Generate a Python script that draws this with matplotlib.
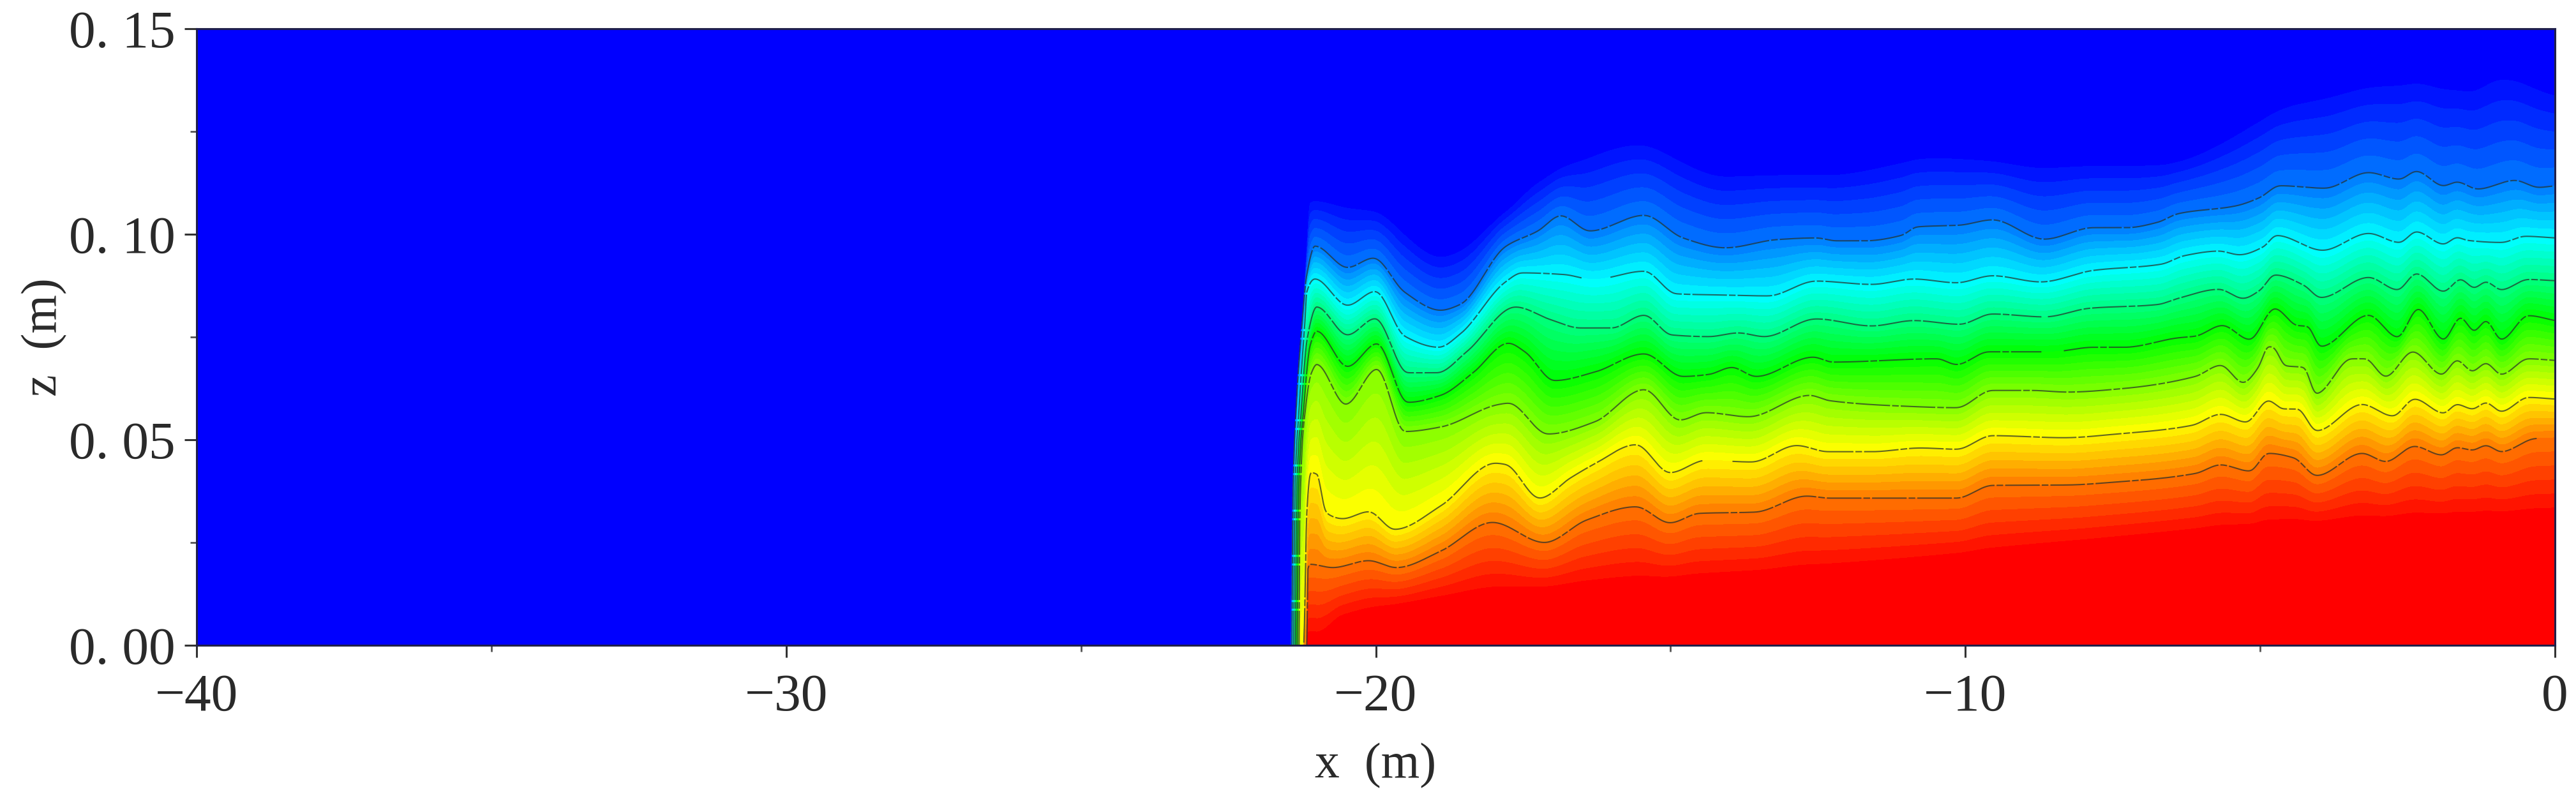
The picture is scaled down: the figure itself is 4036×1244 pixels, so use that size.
import numpy as np
import matplotlib
matplotlib.use("Agg")
import matplotlib.pyplot as plt
from matplotlib.colors import LinearSegmentedColormap, Normalize

# ---- contour lines (x in m, z in m), value = level ----
levels_values = [0.125, 0.25, 0.375, 0.5, 0.625, 0.75, 0.875]

x1 = [-21.42,-21.41,-21.35,-21.27,-21.17,-21.03,-20.48,-20.04,-19.51,-18.90,-18.57,-17.80,-17.25,-16.86,-16.37,-15.45,-14.79,-14.07,-13.19,-12.53,-12.19,-11.70,-11.09,-10.81,-10.10,-9.54,-8.66,-7.83,-7.26,-6.74,-6.39,-5.41,-5.01,-4.66,-3.91,-3.16,-2.64,-2.35,-1.89,-1.66,-1.31,-0.68,-0.27,0]
z1 = [0,.030,.0578,.0748,.0901,.0971,.0919,.0942,.0859,.0815,.0829,.0970,.1008,.1045,.1008,.1046,.0991,.0967,.0987,.0991,.0984,.0984,.0997,.1018,.1022,.1035,.0988,.1016,.1016,.1029,.1050,.1069,.1089,.1118,.1112,.1150,.1134,.1153,.1118,.1127,.1110,.1131,.1114,.1118]

x2 = [-21.39,-21.38,-21.30,-21.20,-21.17,-21.03,-20.48,-20.01,-19.51,-18.93,-18.57,-17.80,-17.52,-16.81,-16.31,-15.45,-14.90,-14.07,-13.35,-12.53,-11.59,-10.87,-10.15,-9.54,-8.72,-7.83,-6.68,-6.28,-5.70,-5.35,-4.95,-4.72,-3.94,-3.16,-2.64,-2.35,-1.89,-1.66,-1.48,-0.91,-0.50,0]
z2 = [0,.030,.0578,.0791,.0859,.0891,.0827,.0861,.0752,.0725,.0757,.0884,.0906,.0902,.0890,.0910,.0855,.0852,.0850,.0886,.0878,.0891,.0882,.0899,.0884,.0912,.0927,.0948,.0959,.0950,.0969,.0997,.0961,.1002,.0980,.1006,.0976,.0992,.0985,.0980,.0995,.0991]

x3 = [-21.36,-21.35,-21.26,-21.16,-21.00,-20.48,-20.01,-19.46,-18.96,-18.46,-17.63,-17.03,-16.53,-16.00,-15.45,-14.98,-14.35,-13.85,-13.41,-12.53,-11.59,-10.87,-10.10,-9.54,-8.66,-7.89,-6.74,-6.39,-5.70,-5.29,-5.01,-4.75,-4.26,-3.97,-3.16,-2.67,-2.35,-1.89,-1.60,-1.37,-1.17,-0.91,-0.45,0]
z3 = [0,.030,.0578,.0748,.0823,.0755,.0795,.0663,.0663,.0714,.0823,.0792,.0772,.0772,.0803,.0755,.0751,.0760,.0751,.0794,.0777,.0790,.0781,.0806,.0799,.0820,.0829,.0844,.0866,.0844,.0863,.0901,.0876,.0846,.0895,.0865,.0904,.0861,.0890,.0870,.0884,.0865,.0890,.0887]

x4 = [-21.33,-21.32,-21.22,-21.11,-21.00,-20.48,-19.98,-19.46,-18.90,-18.35,-17.75,-17.47,-16.97,-16.28,-15.45,-14.79,-14.35,-13.96,-13.55,-12.58,-12.25,-10.48,-10.15,-9.60,-8.55,-7.83,-7.31,-6.39,-6.10,-5.64,-5.18,-4.75,-4.37,-4.20,-3.97,-3.16,-2.67,-2.32,-1.89,-1.60,-1.37,-1.17,-0.91,-0.45,0]
z4 = [0,.030,.0578,.0731,.0764,.0678,.0734,.0591,.0608,.0663,.0735,.0714,.0644,.0665,.0709,.0654,.0659,.0676,.0654,.0701,.0689,.0697,.0683,.0714,.0714,.0725,.0725,.0748,.0752,.0778,.0744,.0819,.0778,.0776,.0727,.0803,.0750,.0818,.0744,.0797,.0765,.0789,.0744,.0802,.0790]

x5 = [-21.30,-21.29,-21.19,-21.09,-21.00,-20.51,-19.98,-19.51,-18.90,-17.91,-17.75,-17.08,-16.28,-15.45,-14.84,-14.40,-13.68,-12.64,-12.30,-11.09,-10.15,-9.54,-8.88,-8.27,-7.37,-6.10,-5.67,-5.29,-5.03,-4.86,-4.78,-4.57,-4.26,-4.05,-3.45,-3.22,-2.87,-2.41,-1.92,-1.66,-1.40,-1.17,-0.91,-0.45,0]
z5 = [0,.030,.0578,.0663,.0683,.0586,.0672,.0520,.0531,.0586,.0589,.0514,.0544,.0622,.0548,.0566,.0556,.0608,.0595,.0582,.0578,.0620,.0620,.0616,.0624,.0654,.0681,.0639,.0676,.0727,.0725,.0680,.0676,.0612,.0697,.0697,.0654,.0714,.0659,.0693,.0667,.0686,.0659,.0697,.0693]

x6 = [-21.225,-21.17,-21.11,-21.09,-21.00,-20.84,-20.56,-20.12,-19.68,-18.90,-17.97,-17.80,-17.22,-16.70,-16.28,-15.59,-15.01,-14.40,-13.63,-12.86,-12.33,-11.59,-10.76,-10.15,-9.54,-8.33,-7.43,-6.16,-5.67,-5.24,-4.86,-4.60,-4.37,-4.04,-3.27,-2.75,-2.38,-1.89,-1.66,-1.40,-1.17,-0.91,-0.45,0]
z6 = [0,.0322,.0416,.0420,.0416,.0322,.0308,.0325,.0282,.0339,.0443,.0440,.0358,.0407,.0442,.0488,.0420,.0450,.0446,.0486,.0471,.0471,.0480,.0477,.0510,.0505,.0514,.0535,.0562,.0543,.0595,.0575,.0575,.0522,.0586,.0558,.0599,.0565,.0586,.0575,.0590,.0569,.0603,.0599]

x7 = [-21.17,-21.15,-21.11,-20.73,-20.12,-19.65,-18.90,-18.02,-17.14,-16.42,-15.59,-15.01,-14.51,-13.57,-12.69,-12.30,-10.15,-9.54,-8.27,-7.55,-6.10,-5.67,-5.18,-4.86,-4.43,-4.04,-3.27,-2.87,-2.38,-1.92,-1.66,-1.40,-1.17,-0.91,-0.33,0]
z7 = [0,.0186,.0197,.0189,.0206,.0189,.0229,.0299,.0250,.0305,.0337,.0298,.0321,.0324,.0363,.0358,.0358,.0389,.0390,.0396,.0418,.0439,.0424,.0467,.0456,.0413,.0467,.0447,.0484,.0463,.0481,.0475,.0486,.0471,.0503,.0505]

# upper edge of the plume (value 0) and lower edge of the fully red zone (value 1)
x_top = [-21.44,-21.43,-21.33,-21.20,-21.11,-20.01,-18.90,-17.80,-17.22,-15.59,-14.07,-12.40,-10.50,-8.70,-6.68,-4.31,-2.35,-1.48,-0.91,0]
z_top = [0,.030,.060,.090,.1102,.1076,.097,.107,.115,.125,.1174,.1174,.1217,.1195,.1195,.1357,.1408,.1392,.1425,.138]
x_red = [-21.00,-20.56,-18.02,-15.00,-12.00,-8.00,-4.00,0]
z_red = [0,.005,.011,.014,.017,.023,.028,.030]

# stretches where a contour line is interrupted in the picture
line_gaps = {2: [(-16.50, -16.02)], 3: [(-8.70, -8.60)], 4: [(-8.70, -8.33)],
             6: [(-14.45, -13.95)], 7: [(-0.30, 0.0)]}

x_ticks = [-40, -30, -20, -10, 0]
x_tick_labels = ["\u221240", "\u221230", "\u221220", "\u221210", "0"]
y_ticks = [0.0, 0.05, 0.10, 0.15]
y_tick_labels = ["0. 00", "0. 05", "0. 10", "0. 15"]

# ---- build the field column by column from the read contours ----
line_x = [x1, x2, x3, x4, x5, x6, x7]
line_z = [z1, z2, z3, z4, z5, z6, z7]

xf = np.arange(-21.6, 0.0001, 0.01)
zf = np.linspace(0, 0.15, 800)


def curve(px, pz):
    """Shape-preserving cubic through the read points, then a light blur."""
    px = np.asarray(px, float)
    pz = np.asarray(pz, float)
    d = np.diff(pz) / np.diff(px)
    w = np.diff(px)
    m = np.zeros_like(pz)
    for i in range(1, len(pz) - 1):
        if d[i - 1] * d[i] > 0:
            w1, w2 = 2 * w[i] + w[i - 1], w[i] + 2 * w[i - 1]
            m[i] = (w1 + w2) / (w1 / d[i - 1] + w2 / d[i])
    m[-1] = d[-1]
    out = np.zeros_like(xf)
    inside = xf >= px[0]
    idx = np.clip(np.searchsorted(px, xf[inside]) - 1, 0, len(w) - 1)
    t = (xf[inside] - px[idx]) / w[idx]
    out[inside] = ((2 * t**3 - 3 * t**2 + 1) * pz[idx]
                   + (t**3 - 2 * t**2 + t) * w[idx] * m[idx]
                   + (-2 * t**3 + 3 * t**2) * pz[idx + 1]
                   + (t**3 - t**2) * w[idx] * m[idx + 1])
    sig = 3.0
    k = np.exp(-0.5 * (np.arange(-12, 13) / sig) ** 2)
    k /= k.sum()
    s = np.convolve(np.pad(out, 12, mode="edge"), k, mode="same")[12:-12]
    blend = np.clip((xf + 21.0) / 0.2, 0, 1)
    return blend * s + (1 - blend) * out


h_lines = [curve(lx, lz) for lx, lz in zip(line_x, line_z)]
h_top = curve(x_top, z_top)
h_red = curve(x_red, z_red)

stack = np.vstack([h_red] + h_lines[::-1] + [h_top])        # low -> high
vals = np.array([1.0] + levels_values[::-1] + [0.0])

field = np.zeros((len(zf), len(xf)))
for j in range(len(xf)):
    h = np.maximum.accumulate(stack[:, j])
    m_pos = h > 0
    if not m_pos.any():
        continue
    h_pos = h[m_pos] + 1e-7 * np.arange(m_pos.sum())
    z0 = vals[~m_pos].min() if (~m_pos).any() else 1.0
    field[:, j] = np.interp(zf, np.r_[0, h_pos], np.r_[z0, vals[m_pos]], right=0)

x_all = np.r_[-40.0, xf]
field_all = np.hstack([np.zeros((len(zf), 1)), field])

# ---- draw ----
W, H = 4036, 1244
fig = plt.figure(figsize=(W / 100, H / 100), dpi=100, facecolor="white")
ax = fig.add_axes([308 / W, (H - 1011) / H, (4003 - 308) / W, (1011 - 45) / H])

cmap = LinearSegmentedColormap.from_list(
    "bcgyr", ["#0000ff", "#00ffff", "#00ff00", "#ffff00", "#ff0000"], N=512)
n_bands = 48
band_edges = np.linspace(0, 1, n_bands + 1)
half = 0.5 / n_bands
ax.contourf(x_all, zf, field_all, levels=band_edges, cmap=cmap,
            norm=Normalize(half, 1 - half), antialiased=False)

for i, (lx, h) in enumerate(zip(line_x, h_lines), start=1):
    y = h.copy()
    y[xf < lx[0]] = np.nan
    for a, b in line_gaps.get(i, []):
        y[(xf > a) & (xf < b)] = np.nan
    ax.plot(xf, y, color="#26302c", lw=1.5, alpha=0.72,
            linestyle=(0, (26, 1.5, 5, 1.5)), zorder=3)

ax.set_xlim(-40, 0)
ax.set_ylim(0, 0.15)

font = "Liberation Serif"
ax.set_xticks(x_ticks)
ax.set_xticklabels(x_tick_labels, family=font, fontsize=60, color="#2a2a2a")
ax.set_yticks(y_ticks)
ax.set_yticklabels(y_tick_labels, family=font, fontsize=60, color="#2a2a2a")
ax.set_xticks(np.arange(-35, 0, 10), minor=True)
ax.set_yticks([0.025, 0.075, 0.125], minor=True)
ax.tick_params(axis="both", which="major", length=14, width=2.2, color="#333333")
ax.tick_params(axis="both", which="minor", length=7, width=2, color="#555555")
ax.tick_params(axis="x", which="major", pad=18)
ax.tick_params(axis="y", which="major", pad=10)
for s in ax.spines.values():
    s.set_linewidth(2.2)
    s.set_color("#20204a")

fig.text(2155 / W, 1 - 1200 / H, "x  (m)", family=font, fontsize=56,
         color="#2a2a2a", ha="center", va="center")
fig.text(70 / W, 1 - 528 / H, "z  (m)", family=font, fontsize=56,
         color="#2a2a2a", ha="center", va="center", rotation=90)

fig.savefig("out.png", dpi=100, facecolor="white")
